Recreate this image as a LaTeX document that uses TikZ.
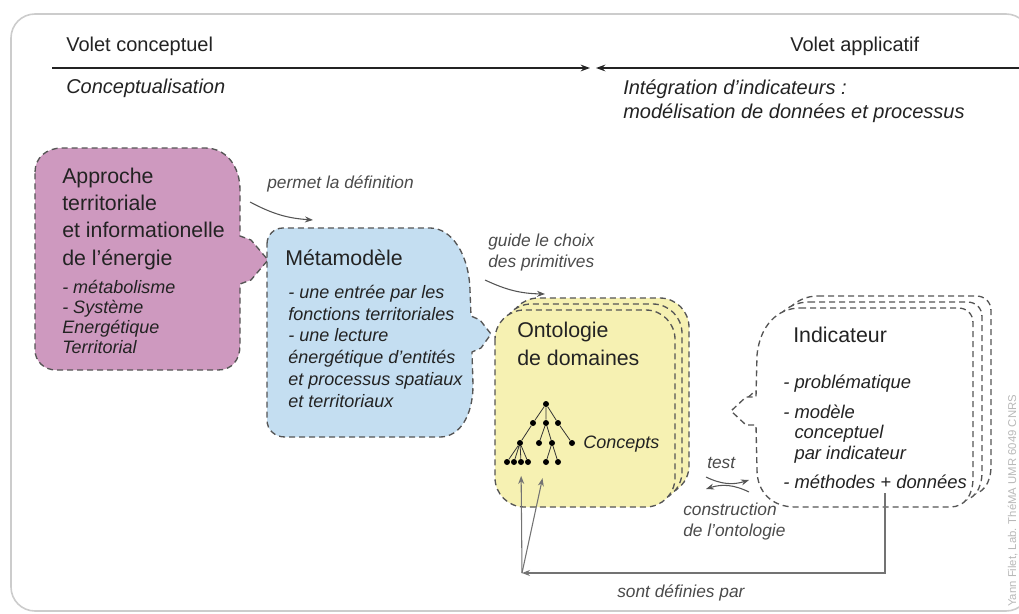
\documentclass[tikz,border=0pt]{standalone}
\usepackage{fontspec}
\setmainfont{Liberation Sans}
\usetikzlibrary{arrows.meta}
\definecolor{approche}{RGB}{206,153,191}
\definecolor{meta}{RGB}{196,222,241}
\definecolor{onto}{RGB}{246,241,178}
\definecolor{trait}{RGB}{85,85,85}
\definecolor{texte}{RGB}{35,35,35}
\definecolor{annot}{RGB}{75,75,75}

\tikzset{
  bloc/.style={draw=trait, line width=1pt, dash pattern=on 4.5pt off 3pt},
  entete/.style={anchor=base west, inner sep=0pt, text=texte, font=\fontsize{15}{18}\selectfont},
  soustitre/.style={anchor=base west, inner sep=0pt, align=left, text=texte, font=\fontsize{15}{18}\selectfont\itshape},
  titre/.style={anchor=base west, inner sep=0pt, align=left, text=texte, font=\fontsize{16}{20.5}\selectfont},
  liste/.style={anchor=base west, inner sep=0pt, align=left, text=texte, font=\fontsize{13.5}{16.2}\selectfont\itshape},
  annot/.style={anchor=base west, inner sep=0pt, align=left, text=annot, font=\fontsize{13}{15.5}\selectfont\itshape},
  axe/.style={draw=texte, line width=1.5pt, -{Stealth[length=7pt,width=5pt]}},
  fleche/.style={draw=trait, line width=0.8pt, -{Stealth[length=6pt,width=4.5pt]}},
  concept/.style={circle, fill=black, inner sep=0pt, minimum size=4.5pt},
}

\begin{document}
\begin{tikzpicture}[x=0.75pt,y=0.75pt,yscale=-1,xscale=1]
\useasboundingbox (0,0) rectangle (1019,613);
\clip (0,0) rectangle (1019,613);

%Frame
\draw [color=black!20, line width=1.2pt, rounded corners=18] (11,14) rectangle (1030,611);

% Text Node
\node [entete] (vc) at (66,52) {Volet conceptuel};
% Text Node
\node [entete] (va) at (790,52) {Volet applicatif};
%Straight Lines
\coordinate (ax1) at (52,68);
\coordinate (ax2) at (590,68);
\coordinate (ax3) at (1019,68);
\coordinate (ax4) at (596,68);
\draw [axe] (ax1) -- (ax2);
\draw [axe] (ax3) -- (ax4);
% Text Node
\node [soustitre] (conc) at (66,94) {Conceptualisation};
% Text Node
\node [soustitre] (integ) at (623,119) {Intégration d’indicateurs :\\modélisation de données et processus};

%Shape: Approche
\draw [bloc, fill=approche] (35,172) .. controls (35,158) and (46,148) .. (62,148) -- (205,148) .. controls (226,148) and (240,166) .. (240,190) -- (240,236) -- (251,240) -- (268,260) -- (251,280) -- (240,284) -- (240,345) .. controls (240,360) and (232,370) .. (218,370) -- (56,370) .. controls (44,370) and (35,361) .. (35,350) -- cycle;
% Text Node
\node [titre] (appr) at (62,265) {Approche\\territoriale\\et informationelle\\de l’énergie};
% Text Node
\node [liste, font=\fontsize{13.5}{15}\selectfont\itshape] (appr2) at (62,353) {- métabolisme\\- Système\\Energétique\\Territorial};

%Shape: Metamodele
\draw [bloc, fill=meta] (267,244) .. controls (267,235) and (274,228) .. (283,228) -- (430,228) .. controls (452,228) and (469,255) .. (470,290) -- (471,316) -- (480,320) -- (491,334) -- (481,348) -- (472,352) -- (473,385) .. controls (473,415) and (460,437) .. (440,437) -- (285,437) .. controls (275,437) and (267,430) .. (267,420) -- cycle;
% Text Node
\node [titre] (meta) at (285,265) {Métamodèle};
% Text Node
\node [liste, font=\fontsize{13.5}{16.3}\selectfont\itshape] (meta2) at (288,407) {- une entrée par les\\fonctions territoriales\\- une lecture\\énergétique d’entités\\et processus spatiaux\\et territoriaux};

%Shape: Ontologie
\draw [bloc, fill=onto, rounded corners=22] (509,298) rectangle (689,495);
\draw [bloc, fill=onto, rounded corners=22] (502,304) rectangle (682,501);
\draw [bloc, fill=onto, rounded corners=22] (495,310) rectangle (675,507);
% Text Node
\node [titre] (onto) at (517,365) {Ontologie\\de domaines};

%Tree
\node [concept] (r) at (546,404) {};
\node [concept] (a1) at (533,423) {};
\node [concept] (a2) at (546,423) {};
\node [concept] (a3) at (558,423) {};
\node [concept] (b1) at (520,443) {};
\node [concept] (b2) at (539,443) {};
\node [concept] (b3) at (552,443) {};
\node [concept] (b4) at (572,443) {};
\node [concept] (c1) at (507,462) {};
\node [concept] (c2) at (514,462) {};
\node [concept] (c3) at (521,462) {};
\node [concept] (c4) at (528,462) {};
\node [concept] (c5) at (546,462) {};
\node [concept] (c6) at (558,462) {};
\draw [black!80, line width=0.6pt] (r) -- (a1) -- (b1) (r) -- (a2) -- (b2) (a2) -- (b3) (r) -- (a3) -- (b4)
  (b1) -- (c1) (b1) -- (c2) (b1) -- (c3) (b1) -- (c4) (b3) -- (c5) (b3) -- (c6);
% Text Node
\node [liste] (concepts) at (583,448) {Concepts};

%Shape: Indicateur
\draw [bloc, fill=white, shift={(18,-12)}] (800,308) -- (958,308) .. controls (967,308) and (973,314) .. (973,323) -- (973,478) .. controls (973,495) and (965,507) .. (950,507) -- (795,507) .. controls (772,507) and (757,492) .. (757,470) -- (756,425) -- (746,425) -- (731,411) -- (746,397) -- (756,397) -- (757,355) .. controls (760,325) and (778,308) .. (800,308) -- cycle;
\draw [bloc, fill=white, shift={(9,-6)}] (800,308) -- (958,308) .. controls (967,308) and (973,314) .. (973,323) -- (973,478) .. controls (973,495) and (965,507) .. (950,507) -- (795,507) .. controls (772,507) and (757,492) .. (757,470) -- (756,425) -- (746,425) -- (731,411) -- (746,397) -- (756,397) -- (757,355) .. controls (760,325) and (778,308) .. (800,308) -- cycle;
\draw [bloc, fill=white] (800,308) -- (958,308) .. controls (967,308) and (973,314) .. (973,323) -- (973,478) .. controls (973,495) and (965,507) .. (950,507) -- (795,507) .. controls (772,507) and (757,492) .. (757,470) -- (756,425) -- (746,425) -- (731,411) -- (746,397) -- (756,397) -- (757,355) .. controls (760,325) and (778,308) .. (800,308) -- cycle;
% Text Node
\node [titre] (indic) at (793,342) {Indicateur};
% Text Node
\node [liste, font=\fontsize{13.8}{15.5}\selectfont\itshape] (indic2) at (783,488) {- problématique\\[7pt]- modèle\\\phantom{- }conceptuel\\\phantom{- }par indicateur\\[6pt]- méthodes + données};

% Text Node
\node [annot] (permet) at (267,188) {permet la définition};
\coordinate (p1) at (250,202);
\coordinate (p2) at (313,220);
\draw [fleche] (p1) to[bend left=12] (p2);

% Text Node
\node [annot] (guide) at (488,267) {guide le choix\\des primitives};
\coordinate (g1) at (485,280);
\coordinate (g2) at (545,294);
\draw [fleche] (g1) to[bend left=12] (g2);

% Text Node
\node [annot] (test) at (707,468) {test};
\coordinate (t1) at (706,477);
\coordinate (t2) at (749,480);
\coordinate (t3) at (749,492);
\coordinate (t4) at (706,489);
\draw [fleche] (t1) to[bend left=22] (t2);
\draw [fleche] (t3) to[bend left=22] (t4);
% Text Node
\node [annot] (constr) at (683,536) {construction\\de l’ontologie};

%Connectors
\coordinate (plus) at (885,493);
\coordinate (def) at (522,573);
\draw [fleche, draw=black!55] (plus) |- (def);
\draw [fleche, draw=black!55, shorten >=8] (def) -- (c3);
\draw [fleche, draw=black!55, shorten >=10] (def) -- (c5);
% Text Node
\node [annot] (sont) at (617,597) {sont définies par};

% Text Node
\node [rotate=90, anchor=base west, inner sep=0pt, text=black!28, font=\fontsize{8.5}{10}\selectfont] (credit) at (1016,607) {Yann Filet, Lab. ThéMA UMR 6049 CNRS};

\end{tikzpicture}
\end{document}
